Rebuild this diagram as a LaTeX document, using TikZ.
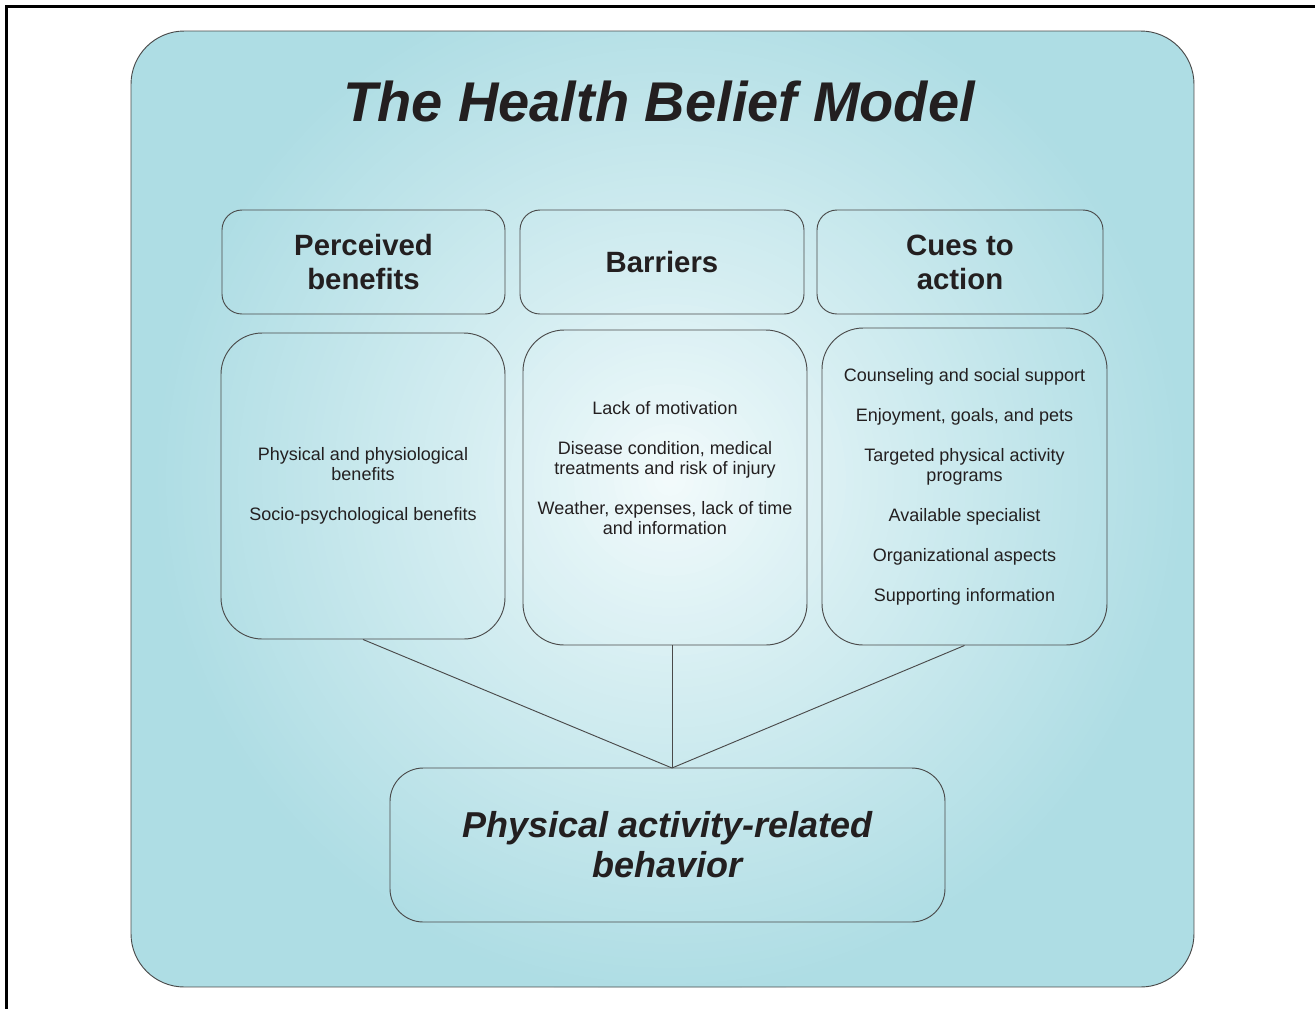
\documentclass[tikz,border=0pt]{standalone}
\usepackage{fontspec}
\setmainfont{Liberation Sans}
\definecolor{hbmcyan}{HTML}{AEDDE4}
\definecolor{hbmcore}{HTML}{F4FBFC}
\definecolor{hbmline}{HTML}{4A4A4A}
\definecolor{hbmtext}{HTML}{231F20}

\begin{document}
\begin{tikzpicture}[x=0.75pt,y=-0.75pt,
  box/.style={draw=hbmline, line width=0.7pt, inner sep=0pt, text=hbmtext, align=center},
  hdr/.style={box, rounded corners=15pt, minimum height=78pt,
    font=\bfseries\fontsize{22}{25.5}\selectfont},
  body/.style={box, rounded corners=31pt,
    font=\fontsize{13.5}{15}\selectfont},
  txt/.style={inner sep=0pt, align=center, text=hbmtext,
    font=\fontsize{13.5}{15}\selectfont},
  link/.style={draw=hbmline, line width=0.7pt}]
\useasboundingbox (0,0) rectangle (1315,1008);

% page frame (top and left rules)
\draw[line width=1.6pt] (6.5,1012) -- (6.5,6.5) -- (1319,6.5);

% background panel with soft central glow (concentric rings)
\begin{scope}
  \clip[rounded corners=40pt] (131,31) rectangle (1194,987);
  \fill[hbmcyan] (131,31) rectangle (1194,987);
  \foreach \k in {0,...,64}{
    \pgfmathsetmacro\rr{520*(1-\k/65)}
    \pgfmathsetmacro\pp{100*(1-\k/65)^0.9}
    \fill[hbmcyan!\pp!hbmcore] (670,480) circle (\rr);
  }
\end{scope}
\draw[hbmline, line width=0.7pt, rounded corners=40pt] (131,31) rectangle (1194,987);

% title
\node[text=hbmtext, font=\bfseries\itshape\fontsize{42}{50}\selectfont] (title) at (659,101) {The Health Belief Model};

% column headers
\node[hdr, minimum width=212.25pt] (pbh) at (363.5,262) {Perceived\\benefits};
\node[hdr, minimum width=213pt] (brh) at (662,262) {Barriers};
\node[hdr, minimum width=214.5pt] (cah) at (960,262) {Cues to\\action};

% column contents
\node[body, minimum width=213pt, minimum height=229.5pt] (pb) at (363,486)
  {Physical and physiological\\benefits\\[15pt]Socio-psychological benefits};
\node[body, minimum width=213pt, minimum height=236.25pt] (br) at (665,487.5) {};
\node[txt] (brtext) at (665,468)
  {Lack of motivation\\[15pt]Disease condition, medical\\treatments and risk of injury\\[15pt]Weather, expenses, lack of time\\and information};
\node[body, minimum width=213.75pt, minimum height=237.75pt] (ca) at (964.5,486.5)
  {Counseling and social support\\[15pt]Enjoyment, goals, and pets\\[15pt]Targeted physical activity\\programs\\[15pt]Available specialist\\[15pt]Organizational aspects\\[15pt]Supporting information};

% outcome
\node[box, rounded corners=25pt, minimum width=416.25pt, minimum height=115.5pt,
  font=\bfseries\itshape\fontsize{27}{30}\selectfont] (beh) at (667.5,845)
  {Physical activity-related\\behavior};

% connectors
\coordinate (meet) at (672,768);
\draw[link] (pb.south) -- (meet);
\draw[link] (br.south -| meet) -- (meet);
\draw[link] (ca.south) -- (meet);
\end{tikzpicture}
\end{document}
